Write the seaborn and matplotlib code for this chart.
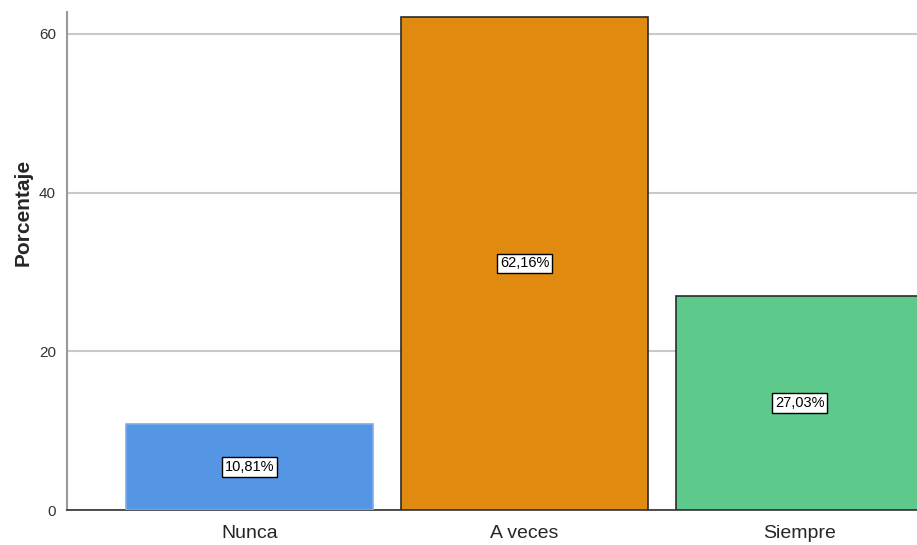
import matplotlib
matplotlib.use("Agg")
import matplotlib.pyplot as plt
import seaborn as sns
import pandas as pd

sns.set_style("white")
plt.rcParams["font.family"] = ["Liberation Sans", "DejaVu Sans"]

# data
categories = ["Nunca", "A veces", "Siempre"]
percentages = [10.81, 62.16, 27.03]
value_labels = ["10,81%", "62,16%", "27,03%"]
bar_colors = ["#5495E4", "#E08A10", "#5DC98B"]
edge_colors = ["#7aaeea", "#2b2b2b", "#2b2b2b"]

df = pd.DataFrame({"cat": categories, "pct": percentages})

fig = plt.figure(figsize=(9.17, 5.45), dpi=100)
ax = fig.add_axes([67 / 917, 35 / 545, 850 / 917, 498 / 545])

sns.barplot(data=df, x="cat", y="pct", hue="cat", palette=bar_colors,
            saturation=1, width=0.898, legend=False, ax=ax, zorder=3)

for bar, ec in zip(ax.patches, edge_colors):
    bar.set_edgecolor(ec)
    bar.set_linewidth(1.2)

for i, (v, lab) in enumerate(zip(percentages, value_labels)):
    ax.text(i, v / 2, lab, ha="center", va="center", fontsize=10.5,
            color="black", zorder=5,
            bbox=dict(boxstyle="square,pad=0.2", fc="white", ec="black", lw=1))

ax.set_xlim(-0.664, 2.427)
ax.set_ylim(0, 62.77)
ax.set_yticks([0, 20, 40, 60])
ax.yaxis.grid(True, color="#c8c8c8", lw=1.5, zorder=0)
ax.set_axisbelow(True)

ax.set_xlabel("")
ax.set_ylabel("Porcentaje", fontsize=15, fontweight="bold")
ax.yaxis.set_label_coords(-0.041, 0.598)
ax.tick_params(axis="x", labelsize=14, length=0, pad=11)
ax.tick_params(axis="y", labelsize=11, length=0, pad=8, colors="#333333")

for s in ["top", "right"]:
    ax.spines[s].set_visible(False)
ax.spines["left"].set_color("#9a9a9a")
ax.spines["left"].set_linewidth(1.5)
ax.spines["bottom"].set_color("#333333")
ax.spines["bottom"].set_linewidth(1.2)

plt.savefig("out.png", dpi=100)
